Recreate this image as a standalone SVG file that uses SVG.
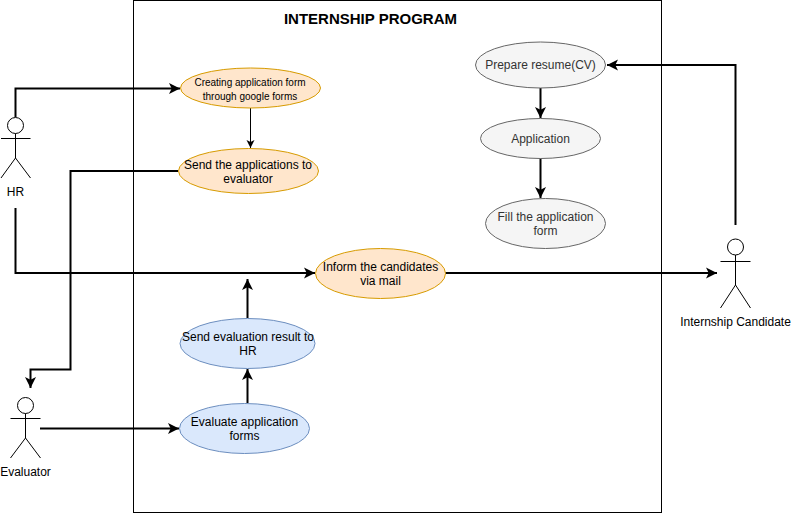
<svg xmlns="http://www.w3.org/2000/svg" width="791" height="513" viewBox="0 0 791 513">
<style>
text{font-family:"Liberation Sans",Arial,sans-serif;font-size:12px;fill:#000;text-anchor:middle}
.orange{fill:#ffe6cc;stroke:#d79b00}
.blue{fill:#dae8fc;stroke:#6c8ebf}
.gray{fill:#f5f5f5;stroke:#666666}
.gt{fill:#333333}
.small{font-size:10px}
.actor{fill:#fff;stroke:#000;stroke-width:1}
.actor-line{fill:none;stroke:#000;stroke-width:1}
.c2{fill:none;stroke:#000;stroke-width:2;marker-end:url(#a2)}
.c1{fill:none;stroke:#000;stroke-width:1;marker-end:url(#a1)}
</style>
<defs>
<marker id="a2" markerUnits="userSpaceOnUse" markerWidth="14" markerHeight="14" refX="12" refY="6" orient="auto" overflow="visible"><path d="M1 0.5 L12 6 L1 11.5 L3.7 6 Z" fill="#000"/></marker>
<marker id="a1" markerUnits="userSpaceOnUse" markerWidth="10" markerHeight="10" refX="8" refY="4" orient="auto" overflow="visible"><path d="M0 0 L8 4 L0 8 L2 4 Z" fill="#000"/></marker>
</defs>
<rect id="boundary" x="133.500" y="0.500" width="528" height="512" fill="#fff" stroke="#000"/>
<text x="370.500" y="24" style="font-size:15px;font-weight:bold">INTERNSHIP PROGRAM</text>
<g id="connectors">
<path class="c2" d="M15.500 117V88.500H180"/>
<path class="c1" d="M250.500 108V148"/>
<path class="c2" d="M178 171H70.500V369.500H30.500V388"/>
<path class="c2" d="M15.500 208V273H315"/>
<path class="c2" d="M445 273H717"/>
<path class="c2" d="M735.500 225V65H607"/>
<path class="c2" d="M540.500 88V118"/>
<path class="c2" d="M540.500 158V198"/>
<path class="c2" d="M247.500 403V369"/>
<path class="c2" d="M247.500 318V279"/>
<path class="c2" d="M40 428.500H179"/>
</g>
<g id="actor-hr">
<circle class="actor" cx="15.500" cy="125.500" r="8"/>
<path class="actor-line" d="M15.500 133.500V158M1 138.500H30.500M1 178L15.500 158L30.500 178"/>
<text x="15.500" y="196">HR</text>
</g>
<g id="actor-evaluator">
<circle class="actor" cx="25.500" cy="405.500" r="8"/>
<path class="actor-line" d="M25.500 413.500V438M10.500 418.500H40.500M10.500 458L25.500 438L40.500 458"/>
<text x="25.500" y="476">Evaluator</text>
</g>
<g id="actor-candidate">
<circle class="actor" cx="735.500" cy="247" r="8"/>
<path class="actor-line" d="M735.500 255V285M720.500 261.500H750.500M720.500 308L735.500 285L750.500 308"/>
<text x="735.500" y="326">Internship Candidate</text>
</g>
<g id="node-create">
<ellipse class="orange" cx="250.500" cy="88" rx="70" ry="20"/>
<text class="small" x="250" y="86">Creating application form</text>
<text class="small" x="250" y="100">through google forms</text>
</g>
<g id="node-send">
<ellipse class="orange" cx="248.500" cy="171" rx="70" ry="22.500"/>
<text x="248" y="169">Send the applications to</text>
<text x="248" y="183">evaluator</text>
</g>
<g id="node-inform">
<ellipse class="orange" cx="380.500" cy="273.500" rx="65" ry="25"/>
<text x="380.500" y="271">Inform the candidates</text>
<text x="380.500" y="285">via mail</text>
</g>
<g id="node-result">
<ellipse class="blue" cx="247.500" cy="343.500" rx="67.500" ry="25"/>
<text x="248" y="341">Send evaluation result to</text>
<text x="248" y="355">HR</text>
</g>
<g id="node-evaluate">
<ellipse class="blue" cx="244.500" cy="428.500" rx="65" ry="25"/>
<text x="244.500" y="426">Evaluate application</text>
<text x="244.500" y="440">forms</text>
</g>
<g id="node-prepare">
<ellipse class="gray" cx="540.500" cy="65" rx="65" ry="23"/>
<text class="gt" x="540.500" y="69">Prepare resume(CV)</text>
</g>
<g id="node-application">
<ellipse class="gray" cx="540.500" cy="138.500" rx="60" ry="20"/>
<text class="gt" x="540.500" y="143">Application</text>
</g>
<g id="node-fill">
<ellipse class="gray" cx="545.500" cy="223.500" rx="60" ry="25"/>
<text class="gt" x="545.500" y="221">Fill the application</text>
<text class="gt" x="545.500" y="235">form</text>
</g>
</svg>
